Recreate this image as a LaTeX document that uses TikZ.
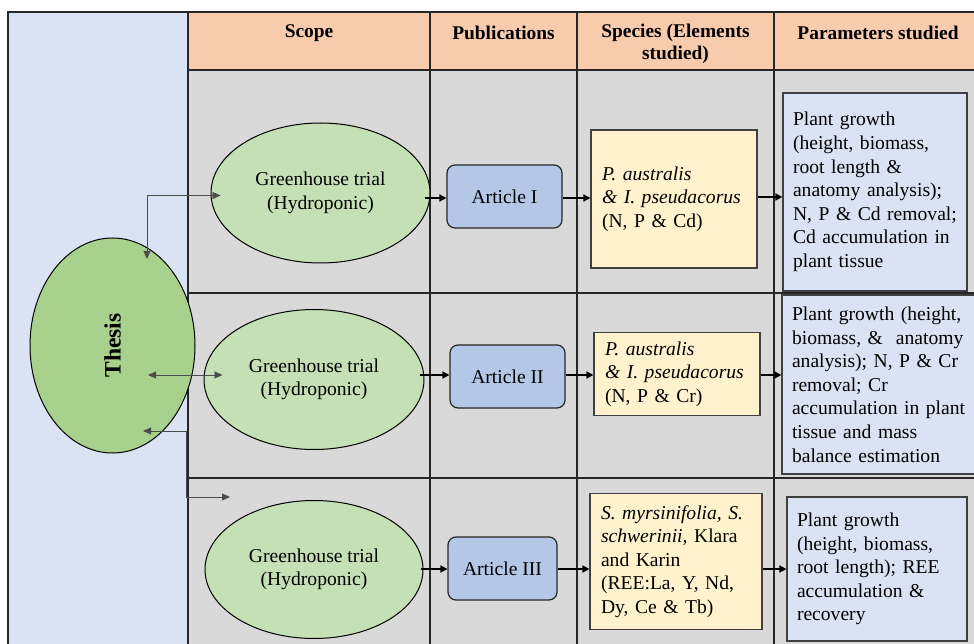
\documentclass[tikz,border=0pt]{standalone}
\usepackage{fontspec}
\setmainfont{Liberation Serif}
\usetikzlibrary{arrows.meta,shapes.geometric,calc}
\definecolor{panelblue}{HTML}{DAE3F3}
\definecolor{hdrorange}{HTML}{F8CBAD}
\definecolor{cellgray}{HTML}{D9D9D9}
\definecolor{ovalgreen}{HTML}{C5E0B4}
\definecolor{thesisgreen}{HTML}{A9D18E}
\definecolor{artblue}{HTML}{B4C7E7}
\definecolor{specyellow}{HTML}{FFF2CC}
\definecolor{parblue}{HTML}{DAE3F3}
\newcommand{\dgfont}{\fontsize{19.6}{23.6}\selectfont}
\begin{document}
\begin{tikzpicture}[x=1pt,y=-1pt,
  hdr/.style={font=\fontsize{19.4}{22}\selectfont\bfseries, align=center, inner sep=0pt},
  gridline/.style={draw=black!85, line width=1.3pt},
  oval/.style={ellipse, draw=black, line width=1pt, fill=ovalgreen, inner sep=0pt, align=center, font=\dgfont},
  artbox/.style={rectangle, rounded corners=8pt, draw=black!85, line width=1.2pt, fill=artblue, inner sep=0pt, font=\dgfont},
  specbox/.style={rectangle, draw=black!75, line width=1.2pt, fill=specyellow, align=left, inner xsep=11pt, inner ysep=0pt, font=\dgfont},
  parbox/.style={rectangle, draw=black!75, line width=1.2pt, fill=parblue, align=left, inner xsep=10pt, inner ysep=0pt, font=\dgfont},
  flow/.style={-{Triangle[length=7pt,width=7pt]}, line width=1.6pt, draw=black},
  tconn/.style={{Triangle[length=8pt,width=7pt]}-{Triangle[length=8pt,width=7pt]}, line width=0.9pt, draw=black!70},
]
\useasboundingbox (0,0) rectangle (974,644);
\clip (0,0) rectangle (974,644);
% backgrounds
\fill[white] (0,0) rectangle (974,644);
\fill[panelblue] (8,12) rectangle (188,660);
\fill[hdrorange] (188,12) rectangle (990,70);
\fill[cellgray] (188,70) rectangle (990,660);
% grid
\draw[gridline] (8,660) -- (8,12) -- (990,12);
\foreach \gx in {188,430,577,774} \draw[gridline] (\gx,12) -- (\gx,660);
\foreach \gy in {70,293,478} \draw[gridline] (188,\gy) -- (990,\gy);
% headers
\node[hdr] (h1) at (309,33) {Scope};
\node[hdr] (h2) at (503.5,33) {Publications};
\node[hdr] (h3) at (675.5,43.5) {Species (Elements\\studied)};
\node[hdr] (h4) at (878,33) {Parameters studied};
% thesis
\node[ellipse, draw=black, line width=1pt, fill=thesisgreen, minimum width=165pt, minimum height=215pt, inner sep=0pt] (thesis) at (112.5,345.5) {};
\node[rotate=90, font=\fontsize{23.5}{26}\selectfont\bfseries, inner sep=0pt] (thesistxt) at (112.5,345.5) {Thesis};
% row 1
\node[oval, minimum width=219pt, minimum height=140pt] (e1) at (320.5,193) {Greenhouse trial\\(Hydroponic)};
\node[artbox, minimum width=115pt, minimum height=63pt] (a1) at (504.5,196.5) {Article I};
\node[specbox, text width=144pt, minimum height=138pt] (s1) at (674,199) {\textit{P. australis}\\\textit{\& I. pseudacorus}\\(N, P \& Cd)};
\node[parbox, text width=164pt, minimum height=198pt] (p1) at (875,192) {Plant growth\\(height, biomass,\\root length \&\\anatomy analysis);\\N, P \& Cd removal;\\Cd accumulation in\\plant tissue};
% row 2
\node[oval, minimum width=220pt, minimum height=140pt] (e2) at (314,379.5) {Greenhouse trial\\(Hydroponic)};
\node[artbox, minimum width=115pt, minimum height=63pt] (a2) at (507.5,376.5) {Article II};
\node[specbox, text width=144pt, minimum height=83pt] (s2) at (677,374) {\textit{P. australis}\\\textit{\& I. pseudacorus}\\(N, P \& Cr)};
\node[parbox, text width=180pt, minimum height=179pt] (p2) at (882,384.5) {Plant growth (height,\\biomass, \&~~anatomy\\analysis); N, P \& Cr\\removal; Cr\\accumulation in plant\\tissue and mass\\balance estimation};
% row 3
\node[oval, minimum width=218pt, minimum height=138pt] (e3) at (314,569.5) {Greenhouse trial\\(Hydroponic)};
\node[artbox, minimum width=109pt, minimum height=63pt] (a3) at (502.5,568.5) {Article III};
\node[specbox, text width=150pt, minimum height=136pt] (s3) at (676,561.5) {\textit{S. myrsinifolia, S.}\\\textit{schwerinii,} Klara\\and Karin\\(REE:La, Y, Nd,\\Dy, Ce \& Tb)};
\node[parbox, text width=160pt, minimum height=144pt] (p3) at (877,569) {Plant growth\\(height, biomass,\\root length); REE\\accumulation \&\\recovery};
% flow arrows
\draw[flow] ($(e1.east |- 0,198)+(-6,0)$) -- (a1.west |- 0,198);
\draw[flow] (a1.east |- 0,198) -- (s1.west |- 0,198);
\draw[flow] (s1.east |- 0,197) -- (p1.west |- 0,197);
\draw[flow] ($(e2.east |- 0,375)+(-5,0)$) -- (a2.west |- 0,375);
\draw[flow] (a2.east |- 0,375) -- (s2.west |- 0,375);
\draw[flow] (s2.east |- 0,375) -- (p2.west |- 0,375);
\draw[flow] ($(e3.east |- 0,569)+(-3,0)$) -- (a3.west |- 0,569);
\draw[flow] (a3.east |- 0,569) -- (s3.west |- 0,569);
\draw[flow] (s3.east |- 0,569) -- (p3.west |- 0,569);
% thesis connectors
\draw[tconn] ($(thesis.center)+(34.5,-86.5)$) |- ($(e1.west)+(10,2.5)$);
\draw[tconn] ($(thesis.center)+(35.5,29.5)$) -- ($(e2.west)+(19,-4.5)$);
\coordinate (k3) at (186,497);
\coordinate (f3) at (230,497);
\draw[tconn] ($(thesis.center)+(30.5,85.5)$) -| (k3) -- (f3);
\end{tikzpicture}
\end{document}
